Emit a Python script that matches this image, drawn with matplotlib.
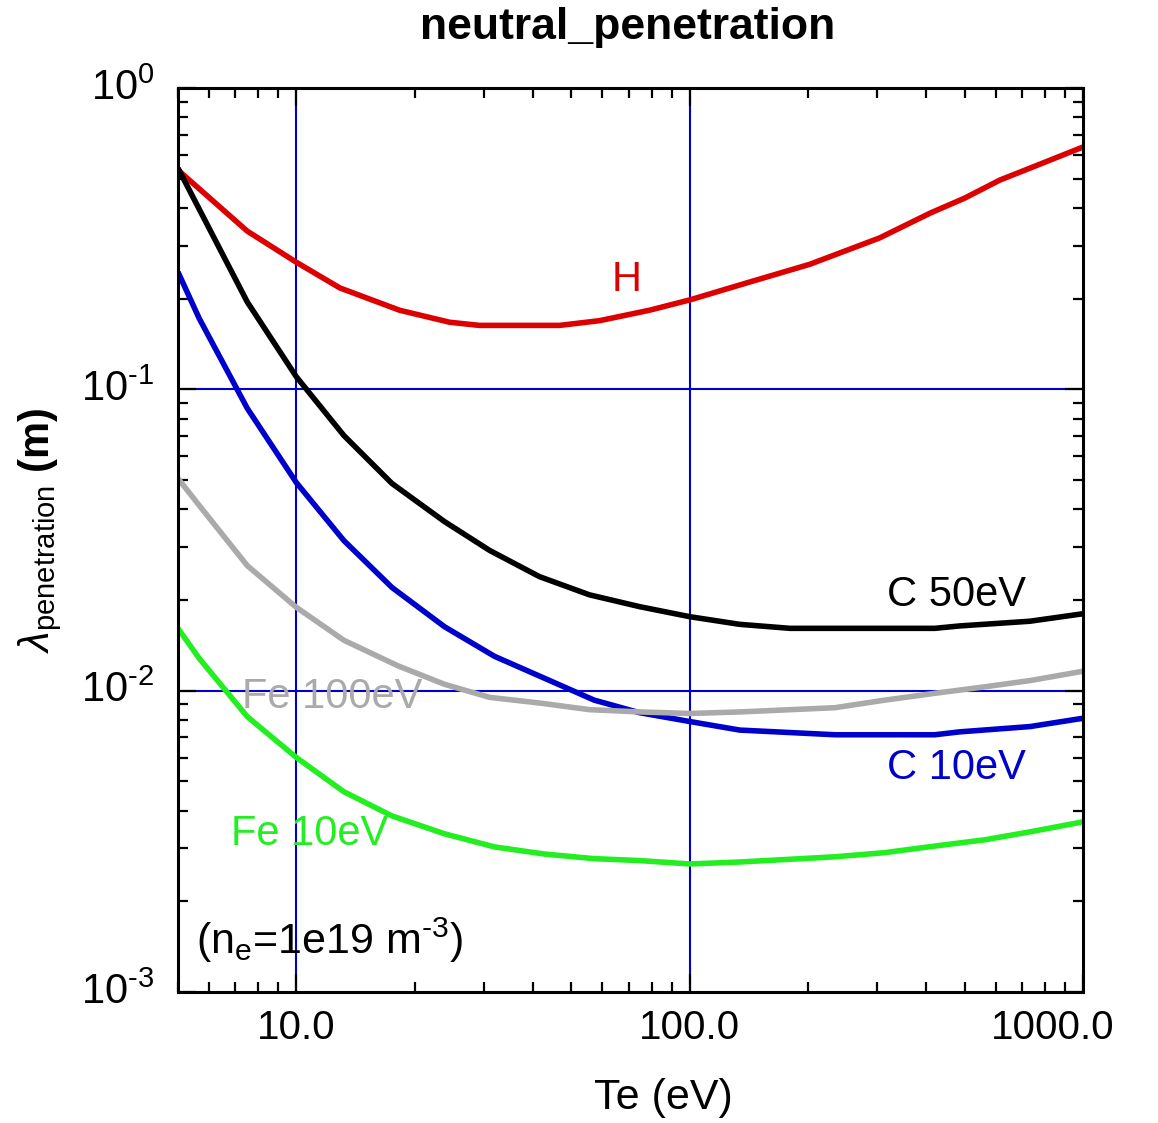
import matplotlib
matplotlib.use("Agg")
import matplotlib.pyplot as plt
import matplotlib.transforms as mtrans
from matplotlib.ticker import LogLocator, FixedLocator, NullFormatter, FixedFormatter

plt.rcParams['font.family'] = ['Liberation Sans', 'DejaVu Sans']
plt.rcParams['mathtext.fontset'] = 'custom'
plt.rcParams['mathtext.rm'] = 'Liberation Sans'
plt.rcParams['mathtext.it'] = 'Liberation Sans:italic'
plt.rcParams['mathtext.bf'] = 'Liberation Sans:bold'

# ---- data ----
te_h = [5, 7.5, 10, 12.9, 18.3, 24.5, 29.2, 46.7, 59, 79, 100, 142, 202, 304, 408, 500, 615, 733, 1000]
lam_h = [0.534, 0.335, 0.264, 0.217, 0.183, 0.167, 0.163, 0.163, 0.169, 0.183, 0.198, 0.227, 0.26, 0.318, 0.384, 0.431, 0.495, 0.542, 0.637]

te_c50 = [5, 7.5, 10, 13.2, 17.5, 23.8, 31, 41.5, 55.6, 74.6, 100, 134, 180, 420, 486, 733, 1000]
lam_c50 = [0.542, 0.195, 0.110, 0.0703, 0.0487, 0.0364, 0.0292, 0.0239, 0.0208, 0.019, 0.0176, 0.0166, 0.0161, 0.0161, 0.0164, 0.017, 0.018]

te_c10 = [5, 5.66, 7.5, 10, 13.2, 17.5, 23.8, 31.9, 42.7, 57.2, 74.6, 100, 134, 234, 420, 486, 733, 1000]
lam_c10 = [0.245, 0.172, 0.0865, 0.049, 0.0315, 0.022, 0.0163, 0.013, 0.011, 0.0093, 0.00845, 0.0079, 0.0074, 0.00714, 0.00714, 0.0073, 0.0076, 0.0081]

te_fe100 = [5, 5.66, 7.5, 10, 13.2, 18.1, 23.8, 31, 41.5, 55.6, 74.6, 100, 134, 234, 313, 420, 563, 733, 1000]
lam_fe100 = [0.0506, 0.0412, 0.026, 0.0189, 0.0147, 0.0121, 0.0105, 0.0095, 0.0091, 0.00865, 0.0085, 0.0084, 0.0085, 0.00878, 0.0093, 0.0098, 0.0103, 0.0108, 0.0116]

te_fe10 = [5, 5.66, 7.5, 10, 13.2, 17.5, 23.8, 31.9, 42.7, 57.2, 74.6, 100, 134, 234, 313, 420, 563, 733, 1000]
lam_fe10 = [0.0161, 0.0128, 0.0082, 0.006, 0.00462, 0.00384, 0.00335, 0.00303, 0.00287, 0.00277, 0.00273, 0.00266, 0.0027, 0.00281, 0.0029, 0.00305, 0.0032, 0.0034, 0.00367]

x_ticks = [10, 100, 1000]
x_ticklabels = ['10.0', '100.0', '1000.0']
y_ticks = [1e-3, 1e-2, 1e-1, 1]
y_ticklabels = ['10$^{\u20103}$', '10$^{\u20102}$', '10$^{\u20101}$', '10$^{0}$']

fig = plt.figure(figsize=(11.58, 11.23), dpi=100)
ax = fig.add_axes([178/1158, 1-992/1123, (1083-178)/1158, (992-88)/1123])
ax.set_xscale('log')
ax.set_yscale('log')
ax.set_xlim(5, 1000)
ax.set_ylim(1e-3, 1)

# grid (blue) at major positions
for gx in [10, 100]:
    ax.axvline(gx, color='#0000cc', lw=1.5, zorder=1)
for gy in [1e-2, 1e-1]:
    ax.axhline(gy, color='#0000cc', lw=1.5, zorder=1)

lw = 4.0
ax.plot(te_h, lam_h, color='#dd0000', lw=lw, zorder=3, solid_capstyle='butt')
ax.plot(te_c50, lam_c50, color='black', lw=lw, zorder=3, solid_capstyle='butt')
ax.plot(te_c10, lam_c10, color='#0000cc', lw=lw, zorder=3, solid_capstyle='butt')
ax.plot(te_fe100, lam_fe100, color='#aaaaaa', lw=lw, zorder=3, solid_capstyle='butt')
ax.plot(te_fe10, lam_fe10, color='#22ee22', lw=lw, zorder=3, solid_capstyle='butt')

fs = 30
ax.text(69, 0.23, 'H', color='#dd0000', fontsize=fs, ha='center', va='center', zorder=4)
ax.text(477, 0.0207, 'C 50eV', color='black', fontsize=fs, ha='center', va='center', zorder=4)
ax.text(477, 0.00555, 'C 10eV', color='#0000cc', fontsize=fs, ha='center', va='center', zorder=4)
ax.text(12.35, 0.00955, 'Fe 100eV', color='#aaaaaa', fontsize=fs, ha='center', va='center', zorder=2)
ax.text(10.8, 0.00335, 'Fe 10eV', color='#22ee22', fontsize=fs, ha='center', va='center', zorder=2)
ax.text(5.55, 0.00148, '(n$_\\mathrm{e}$=1e19 m$^{\u20103}$)', color='black', fontsize=31, ha='left', va='center', zorder=4)

ax.xaxis.set_major_locator(FixedLocator(x_ticks))
ax.xaxis.set_major_formatter(FixedFormatter(x_ticklabels))
ax.xaxis.set_minor_locator(LogLocator(base=10, subs=[2, 3, 4, 5, 6, 7, 8, 9]))
ax.xaxis.set_minor_formatter(NullFormatter())
ax.yaxis.set_major_locator(FixedLocator(y_ticks))
ax.yaxis.set_major_formatter(FixedFormatter(y_ticklabels))
ax.yaxis.set_minor_locator(LogLocator(base=10, subs=[2, 3, 4, 5, 6, 7, 8, 9]))
ax.yaxis.set_minor_formatter(NullFormatter())

ax.tick_params(which='both', direction='in', top=True, right=True, width=1.6, color='black')
ax.tick_params(which='major', length=13)
ax.tick_params(which='minor', length=7)
ax.tick_params(axis='x', which='major', labelsize=29, pad=12)
ax.tick_params(axis='y', which='major', labelsize=30, pad=17)
for s in ax.spines.values():
    s.set_linewidth(2.2)
    s.set_zorder(5)

fig.canvas.draw()
xlabels = ax.get_xticklabels()
last = xlabels[-1]
last.set_transform(last.get_transform() + mtrans.ScaledTranslation(-30/100, 0, fig.dpi_scale_trans))
for lab in ax.get_yticklabels():
    lab.set_transform(lab.get_transform() + mtrans.ScaledTranslation(0, 4/100, fig.dpi_scale_trans))

fig.text(628/1158, 1-28/1123, 'neutral_penetration', fontsize=32, fontweight='bold', ha='center', va='center')
fig.text(663/1158, 1-1098/1123, 'Te (eV)', fontsize=31, ha='center', va='center')
fig.text(40/1158, 1-530/1123, r'$\lambda_{\mathrm{penetration}}$ $\mathbf{(m)}$', fontsize=30, rotation=90, ha='center', va='center')

fig.savefig('out.png', dpi=100)
